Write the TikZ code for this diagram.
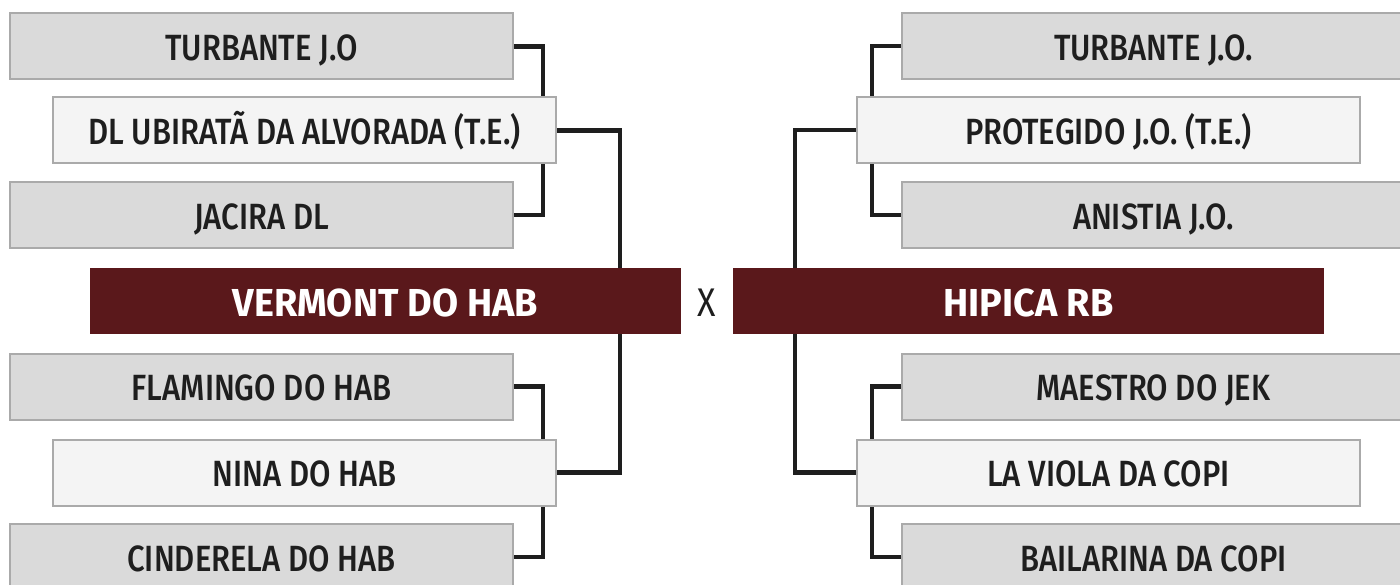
\documentclass[tikz,border=0pt]{standalone}
\usepackage{fontspec}
\usetikzlibrary{backgrounds}
\newfontfamily\boxfont{Fira Sans Medium}[FakeStretch=0.85]
\newfontfamily\ttlfont{Fira Sans}[FakeStretch=0.97]
\newfontfamily\xfont{Fira Sans}[FakeStretch=0.85]
\definecolor{outerfill}{HTML}{DADADA}
\definecolor{innerfill}{HTML}{F4F4F4}
\definecolor{boxline}{HTML}{AAAAAA}
\definecolor{wine}{HTML}{5A181B}
\definecolor{ink}{HTML}{1E1E1E}
\tikzset{
  x=1pt,y=-1pt,
  base/.style={draw=boxline,line width=2pt,minimum width=503pt,minimum height=66pt,inner sep=0pt,text height=28.5pt,text depth=0pt,text=ink,font=\boxfont\fontsize{36.5}{40}\selectfont},
  obox/.style={base,fill=outerfill},
  ibox/.style={base,fill=innerfill},
  tbox/.style={fill=wine,minimum width=591pt,minimum height=66pt,inner sep=0pt,text height=31pt,text depth=0pt,text=white,font=\ttlfont\bfseries\fontsize{39}{42}\selectfont},
  conn/.style={draw=ink,line width=4.5pt},
}
\begin{document}
\begin{tikzpicture}
\useasboundingbox (0,0) rectangle (1400,585);
% left side
\node[obox] (L1) at (261.5,46.5) {TURBANTE J.O};
\node[ibox] (L2) at (304.5,130.5) {DL UBIRATÃ DA ALVORADA (T.E.)};
\node[obox] (L3) at (261.5,215) {JACIRA DL};
\node[tbox] (V) at (385.5,301) {VERMONT DO HAB};
\node[obox] (L5) at (261.5,386.5) {FLAMINGO DO HAB};
\node[ibox] (L6) at (304.5,472.5) {NINA DO HAB};
\node[obox] (L7) at (261.5,557) {CINDERELA DO HAB};
% right side
\node[obox] (R1) at (1153.5,46) {TURBANTE J.O.};
\node[ibox] (R2) at (1108.5,130) {PROTEGIDO J.O. (T.E.)};
\node[obox] (R3) at (1153.5,215) {ANISTIA J.O.};
\node[tbox] (H) at (1028.5,301) {HIPICA RB};
\node[obox] (R5) at (1153.5,386.5) {MAESTRO DO JEK};
\node[ibox] (R6) at (1108.5,472.5) {LA VIOLA DA COPI};
\node[obox] (R7) at (1153.5,557) {BAILARINA DA COPI};
% X
\node[text=ink,font=\xfont\fontsize{40}{44}\selectfont,inner sep=0pt,text height=31pt,text depth=0pt] (X) at (707,301) {X};
% connector guides
\coordinate (lx) at (543,0);
\coordinate (mlx) at (620,0);
\coordinate (rx) at (872,0);
\coordinate (mrx) at (795,0);
\begin{scope}[on background layer]
\draw[conn] (L1.east) -| (lx |- L2.north);
\draw[conn] (lx |- L2.south) |- (L3.east);
\draw[conn] (L5.east) -| (lx |- L6.north);
\draw[conn] (lx |- L6.south) |- (L7.east);
\draw[conn] (L2.east) -| (mlx |- V.north);
\draw[conn] (mlx |- V.south) |- (L6.east);
\draw[conn] (R1.west) -| (rx |- R2.north);
\draw[conn] (rx |- R2.south) |- (R3.west);
\draw[conn] (R5.west) -| (rx |- R6.north);
\draw[conn] (rx |- R6.south) |- (R7.west);
\draw[conn] (R2.west) -| (mrx |- H.north);
\draw[conn] (mrx |- H.south) |- (R6.west);
\end{scope}
\end{tikzpicture}
\end{document}
